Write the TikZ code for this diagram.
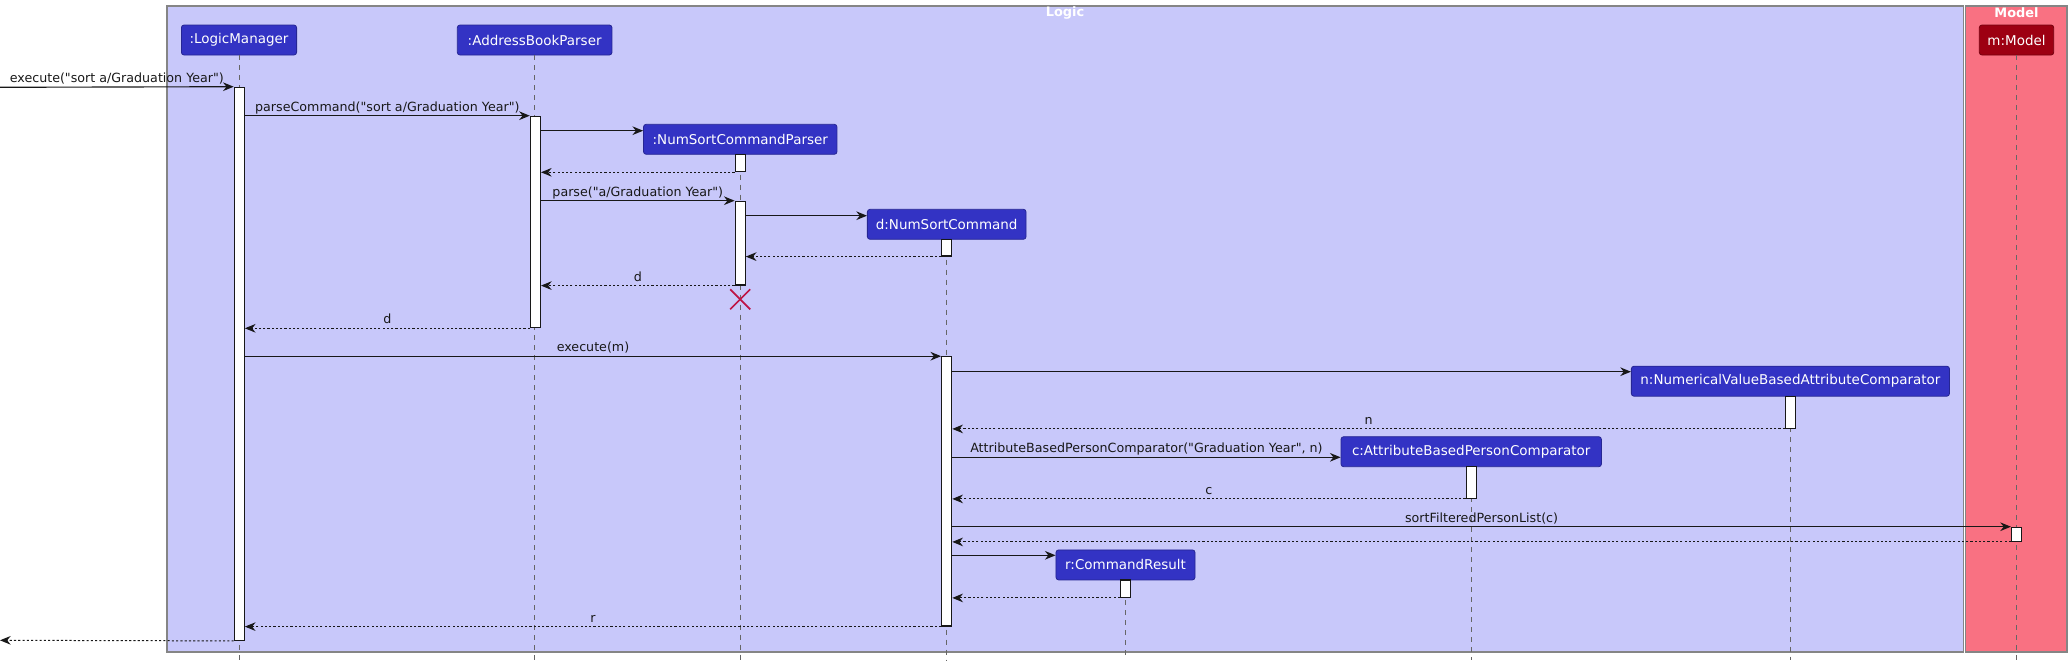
\documentclass[tikz,border=0pt]{standalone}
\usepackage{fontspec}
\setmainfont{DejaVu Sans}[Ligatures=TeXOff]
\usetikzlibrary{arrows.meta,fit,calc}
\definecolor{logicbg}{RGB}{200,200,250}
\definecolor{modelbg}{RGB}{249,113,130}
\definecolor{pblue}{RGB}{51,51,196}
\definecolor{pred}{RGB}{157,0,18}
\definecolor{xred}{RGB}{190,20,70}
\definecolor{ink}{RGB}{24,24,24}
\begin{document}
\begin{tikzpicture}[x=0.75pt,y=-0.75pt,
  frame/.style={draw=black!48, line width=1.1pt, inner sep=0pt},
  pbox/.style={fill=pblue, draw=pblue!75!black, rounded corners=2pt, text=white, inner sep=0pt, line width=0.6pt, minimum height=22.5pt, font=\fontsize{10.1}{12}\selectfont},
  mbox/.style={pbox, fill=pred, draw=pred!75!black},
  lifeline/.style={draw=black!60, dash pattern=on 3.75pt off 3.75pt, line width=0.75pt},
  actbar/.style={fill=white, draw=ink, line width=0.9pt, inner sep=0pt},
  msg/.style={draw=ink, line width=0.85pt, -{Stealth[length=8pt,width=6.5pt,inset=2.6pt]}},
  ret/.style={msg, line width=0.75pt, dash pattern=on 1.6pt off 1.6pt},
  lbl/.style={font=\fontsize{9.5}{11}\selectfont, text=ink, inner sep=0pt, anchor=base, yshift=3.4pt},
  ftitle/.style={font=\bfseries\fontsize{9.7}{11}\selectfont, text=white, inner sep=0pt}
]
\useasboundingbox (0,0) rectangle (2072,664);
% frames
\node[frame, fill=logicbg, fit={(167,6) (1963.5,652)}] (Logic) {};
\node[frame, fill=modelbg, fit={(1965.5,6) (2067,652)}] (Model) {};
\node[ftitle] (tLogic) at (1065,13) {Logic};
\node[ftitle] (tModel) at (2016.5,13) {Model};
% participants
\node[pbox, minimum width=86.4pt] (LM) at (239,40) {:LogicManager};
\node[pbox, minimum width=116pt] (ABP) at (534.65,40) {:AddressBookParser};
\node[mbox, minimum width=55.8pt] (MM) at (2016.5,40) {m:Model};
\node[pbox, minimum width=145.1pt] (NSCP) at (740.25,139.3) {:NumSortCommandParser};
\node[pbox, minimum width=119pt] (D) at (946.7,224.3) {d:NumSortCommand};
\node[pbox, minimum width=238.6pt] (N) at (1790.4,381.2) {n:NumericalValueBasedAttributeComparator};
\node[pbox, minimum width=195.3pt] (C) at (1471.2,451.7) {c:AttributeBasedPersonComparator};
\node[pbox, minimum width=104.3pt] (R) at (1125.5,564.9) {r:CommandResult};
% lifelines
\foreach \p in {LM,ABP,MM,NSCP,D,N,C,R}{
  \draw[lifeline] (\p.south) -- (\p.south |- 0,660);
}
% activation bars
\node[actbar, fit={(234.3,87.3) (244.3,640.3)}] (aLM) {};
\node[actbar, fit={(530.4,116.3) (540.4,327.7)}] (aABP) {};
\node[actbar, fit={(735.2,154.3) (745.2,171.7)}] (aP1) {};
\node[actbar, fit={(735.2,201.3) (745.2,285)}] (aP2) {};
\node[actbar, fit={(941.7,239.3) (951.7,256)}] (aD1) {};
\node[actbar, fit={(941.7,356.8) (951.7,626)}] (aD2) {};
\node[actbar, fit={(1785.4,396.3) (1795.4,428.3)}] (aN) {};
\node[actbar, fit={(1466.2,466.7) (1476.2,498.3)}] (aC) {};
\node[actbar, fit={(1120.5,580) (1130.5,597.3)}] (aR) {};
\node[actbar, fit={(2011.5,527.3) (2021.5,541.3)}] (aM) {};
% free ends
\coordinate (inL) at (0,87.3);
\coordinate (outL) at (0,640.3);
% messages
\draw[msg] (inL) -- (aLM.north west) node[lbl, midway] {execute("sort a/Graduation Year")};
\draw[msg] (aLM.east |- aABP.north) -- (aABP.north west) node[lbl, midway] {parseCommand("sort a/Graduation Year")};
\draw[msg] (aABP.east |- 0,130.7) -- (NSCP.west |- 0,130.7);
\draw[ret] (aP1.south west) -- (aABP.east |- aP1.south);
\draw[msg] (aABP.east |- aP2.north) -- (aP2.north west) node[lbl, midway] {parse("a/Graduation Year")};
\draw[msg] (aP2.east |- 0,215.7) -- (D.west |- 0,215.7);
\draw[ret] (aD1.south west) -- (aP2.east |- aD1.south);
\draw[ret] (aP2.south west) -- (aABP.east |- aP2.south) node[lbl, midway] {d};
\coordinate (xc) at (740.2,299.3);
\draw[xred, line width=1.3pt] ($(xc)+(-10,-10)$) -- ($(xc)+(10,10)$);
\draw[xred, line width=1.3pt] ($(xc)+(-10,10)$) -- ($(xc)+(10,-10)$);
\draw[ret] (aABP.south west) -- (aLM.east |- aABP.south) node[lbl, midway] {d};
\draw[msg] (aLM.east |- aD2.north) -- (aD2.north west) node[lbl, midway] {execute(m)};
\draw[msg] (aD2.east |- 0,371.7) -- (N.west |- 0,371.7);
\draw[ret] (aN.south west) -- (aD2.east |- aN.south) node[lbl, midway] {n};
\draw[msg] (aD2.east |- 0,457.3) -- (C.west |- 0,457.3) node[lbl, midway] {AttributeBasedPersonComparator("Graduation Year", n)};
\draw[ret] (aC.south west) -- (aD2.east |- aC.south) node[lbl, midway] {c};
\draw[msg] (aD2.east |- aM.north) -- (aM.north west) node[lbl, midway] {sortFilteredPersonList(c)};
\draw[ret] (aM.south west) -- (aD2.east |- aM.south);
\draw[msg] (aD2.east |- 0,555.3) -- (R.west |- 0,555.3);
\draw[ret] (aR.south west) -- (aD2.east |- aR.south);
\draw[ret] (aD2.south west) -- (aLM.east |- aD2.south) node[lbl, midway] {r};
\draw[ret] (aLM.south west) -- (outL);
\end{tikzpicture}
\end{document}
